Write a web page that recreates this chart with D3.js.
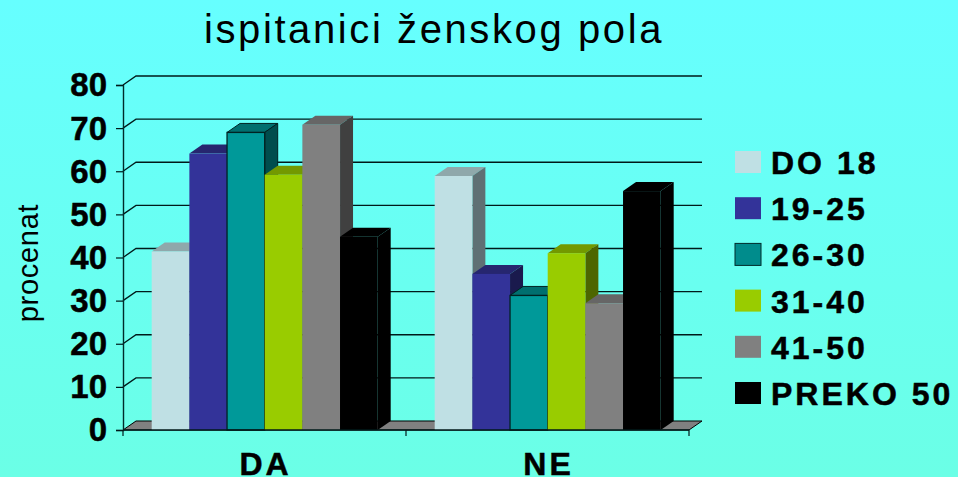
<!DOCTYPE html>
<html>
<head>
<meta charset="utf-8">
<script src="https://d3js.org/d3.v7.min.js"></script>
<style>
  html, body { margin: 0; padding: 0; }
  svg { display: block; }
  text { font-family: "Liberation Sans", Arial, sans-serif; fill: #000; }
</style>
</head>
<body>
<svg id="chart" width="958" height="477"></svg>
<script>
const categories = ["DA", "NE"];
const seriesNames = ["DO 18", "19-25", "26-30", "31-40", "41-50", "PREKO 50"];
const daValues = [41.4, 64.1, 69, 59.2, 70.8, 44.8];
const neValues = [58.9, 36.2, 31.2, 41, 29.4, 55.4];
const yTicks = [0, 10, 20, 30, 40, 50, 60, 70, 80];

const frontColors = ["#bfe0e4", "#333399", "#009999", "#99cc00", "#808080", "#000000"];
const topColors = ["#8fa8ab", "#26266f", "#006f6f", "#739900", "#666666", "#000000"];
const sideColors = ["#5f7074", "#1a1a4d", "#004d4d", "#4d6600", "#404040", "#000000"];

const valuesByCategory = { DA: daValues, NE: neValues };

// 3d depth of the chart box
const depthX = 13;
const depthY = 9;

const svg = d3.select("#chart");

const grad = svg.append("defs").append("linearGradient")
  .attr("id", "bg")
  .attr("x1", 0).attr("y1", 0).attr("x2", 0).attr("y2", 1);
grad.append("stop").attr("offset", "0%").attr("stop-color", "#66ffff");
grad.append("stop").attr("offset", "100%").attr("stop-color", "#6bffe6");

svg.append("rect").attr("width", 958).attr("height", 477).attr("fill", "url(#bg)");

const x0 = d3.scaleBand().domain(categories).range([123, 689]).paddingInner(0).paddingOuter(0);
const x1 = d3.scaleBand().domain(seriesNames)
  .range([28.7, x0.bandwidth() - 28.3]);
const y = d3.scaleLinear().domain([0, 80]).range([430, 85]);

svg.append("text")
  .attr("x", 434).attr("y", 43)
  .attr("text-anchor", "middle")
  .attr("font-size", 40)
  .attr("letter-spacing", 2.6)
  .text("ispitanici ženskog pola");

svg.append("text")
  .attr("transform", "translate(38,263) rotate(-90)")
  .attr("text-anchor", "middle")
  .attr("font-size", 29)
  .attr("letter-spacing", 0.7)
  .text("procenat");

// floor
svg.append("path")
  .attr("d", d3.line()([
    [x0.range()[0], y(0)],
    [x0.range()[0] + depthX, y(0) - depthY],
    [x0.range()[1] + depthX, y(0) - depthY],
    [x0.range()[1], y(0)]
  ]) + "Z")
  .attr("fill", "#808080")
  .attr("stroke", "#000")
  .attr("stroke-width", 1);

// grid lines on left wall and back wall
svg.append("g").selectAll("path")
  .data(yTicks.filter((d) => d > 0))
  .join("path")
  .attr("d", (d) => d3.line()([
    [123, y(d)],
    [123 + depthX, y(d) - depthY],
    [689 + depthX, y(d) - depthY]
  ]))
  .attr("fill", "none")
  .attr("stroke", "#001a1a")
  .attr("stroke-width", 1.3);

// bars, painted left to right so fronts cover the previous side face
const barGroups = svg.append("g").selectAll("g")
  .data(categories)
  .join("g")
  .attr("transform", (c) => `translate(${x0(c)},0)`);

barGroups.each(function (c) {
  const g = d3.select(this);
  valuesByCategory[c].forEach((v, i) => {
    const name = seriesNames[i];
    const left = x1(name);
    const right = left + x1.bandwidth();
    const top = y(v);
    const base = y(0);
    const outline = i === 2 ? "#002222" : "none";
    g.append("path")
      .attr("d", d3.line()([[left, top], [left + depthX, top - depthY], [right + depthX, top - depthY], [right, top]]) + "Z")
      .attr("fill", topColors[i])
      .attr("stroke", outline);
    g.append("path")
      .attr("d", d3.line()([[right, top], [right + depthX, top - depthY], [right + depthX, base - depthY], [right, base]]) + "Z")
      .attr("fill", sideColors[i])
      .attr("stroke", outline);
    g.append("rect")
      .attr("x", left).attr("y", top)
      .attr("width", x1.bandwidth()).attr("height", base - top)
      .attr("fill", frontColors[i])
      .attr("stroke", outline)
      .attr("stroke-width", 1.3);
  });
});

// y axis
const yAxis = svg.append("g")
  .attr("transform", "translate(123,0)")
  .call(d3.axisLeft(y).tickValues(yTicks).tickSize(7).tickPadding(9));
yAxis.select(".domain").attr("stroke", "#002b2b").attr("stroke-width", 1.4);
yAxis.selectAll(".tick line").attr("stroke", "#001a1a").attr("stroke-width", 1.2);
yAxis.selectAll("text")
  .attr("font-family", '"Liberation Sans", Arial, sans-serif')
  .attr("font-size", 33)
  .attr("font-weight", "bold")
  .attr("stroke", "#000")
  .attr("stroke-width", 0.5)
  .attr("dy", "0.33em");

// x axis, ticks sit between the categories
svg.append("line")
  .attr("x1", 123).attr("x2", 689).attr("y1", y(0)).attr("y2", y(0))
  .attr("stroke", "#001a1a").attr("stroke-width", 1.4);
svg.append("g").selectAll("line")
  .data([x0.range()[0], x0("NE"), x0.range()[1]])
  .join("line")
  .attr("x1", (d) => d).attr("x2", (d) => d)
  .attr("y1", y(0)).attr("y2", y(0) + 6)
  .attr("stroke", "#001a1a").attr("stroke-width", 1.2);
svg.append("g").selectAll("text")
  .data(categories)
  .join("text")
  .attr("x", (c) => x0(c) + x0.bandwidth() / 2 + 1)
  .attr("y", 475)
  .attr("text-anchor", "middle")
  .attr("font-size", 32)
  .attr("font-weight", "bold")
  .attr("letter-spacing", 3)
  .attr("stroke", "#000")
  .attr("stroke-width", 0.5)
  .text((c) => c);

// legend
const legendY = d3.scalePoint().domain(seriesNames).range([162, 393]);
const legend = svg.append("g").selectAll("g")
  .data(seriesNames)
  .join("g")
  .attr("transform", (d) => `translate(735,${legendY(d)})`);
legend.append("rect")
  .attr("x", 0).attr("y", -11).attr("width", 26).attr("height", 22)
  .attr("fill", (d, i) => i === 2 ? "#008c8c" : frontColors[i])
  .attr("stroke", (d, i) => i === 2 ? "#002b2b" : "none");
legend.append("text")
  .attr("x", 36).attr("y", 12)
  .attr("font-size", 32)
  .attr("font-weight", "bold")
  .attr("letter-spacing", 3)
  .attr("stroke", "#000")
  .attr("stroke-width", 0.5)
  .text((d) => d);
</script>
</body>
</html>
